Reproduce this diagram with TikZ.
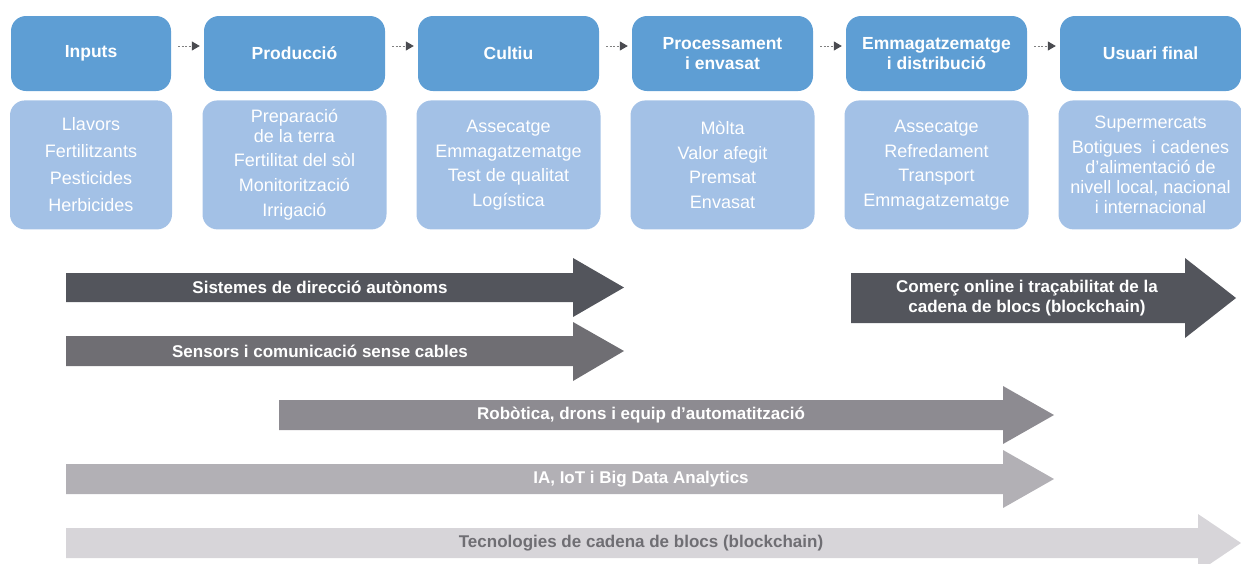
\documentclass[tikz,border=0pt]{standalone}
\usepackage{fontspec}
\setmainfont{Liberation Sans}
\usetikzlibrary{positioning,arrows.meta}

\definecolor{headblue}{HTML}{5E9ED4}
\definecolor{bodyblue}{HTML}{A3C1E6}
\definecolor{tipgray}{HTML}{4A4B50}
\definecolor{bandA}{HTML}{53555C}
\definecolor{bandB}{HTML}{6F6E73}
\definecolor{bandC}{HTML}{8D8B91}
\definecolor{bandD}{HTML}{B2B0B5}
\definecolor{bandE}{HTML}{D7D5D9}

\begin{document}
\begin{tikzpicture}[x=1pt,y=-1pt,
  head/.style = {fill=headblue, rounded corners=15pt, text=white, minimum width=181pt, minimum height=75pt, inner sep=0pt, align=center, font=\bfseries\fontsize{17.5}{20}\selectfont},
  body/.style = {fill=bodyblue, rounded corners=15pt, text=white, minimum width=184pt, minimum height=129pt, inner sep=0pt, align=center, font=\fontsize{18}{20}\selectfont},
  flow/.style = {draw=gray, line width=1pt, dash pattern=on 2pt off 1.5pt, shorten <=7pt, shorten >=4pt, -{Triangle[length=8pt,width=9pt,color=tipgray]}},
  band/.style = {text=white, align=center, font=\bfseries\fontsize{17}{20}\selectfont}]
\useasboundingbox (0,0) rectangle (1241,563);

% stages
\node[head, minimum width=160pt] (inputs) at (91,53.5) {Inputs};
\node[head] (produccio) [right=32.6pt of inputs] {Producció};
\node[head] (cultiu) [right=32.6pt of produccio] {Cultiu};
\node[head] (process) [right=32.6pt of cultiu] {Processament\\i envasat};
\node[head] (emmag) [right=32.6pt of process] {Emmagatzematge\\i distribució};
\node[head] (usuari) [right=32.6pt of emmag] {Usuari final};

\node[body, minimum width=162pt] (inputsB) [below=9pt of inputs] {Llavors\\[7pt]Fertilitzants\\[7pt]Pesticides\\[7pt]Herbicides};
\node[body] (produccioB) [below=9pt of produccio] {Preparació\\de la terra\\[4pt]Fertilitat del sòl\\[5pt]Monitorització\\[5pt]Irrigació};
\node[body] (cultiuB) [below=9pt of cultiu] {Assecatge\\[5pt]Emmagatzematge\\[4pt]Test de qualitat\\[5pt]Logística};
\node[body] (processB) [below=9pt of process] {Mòlta\\[5pt]Valor afegit\\[4pt]Premsat\\[5pt]Envasat};
\node[body] (emmagB) [below=9pt of emmag] {Assecatge\\[5pt]Refredament\\[4pt]Transport\\[5pt]Emmagatzematge};
\node[body] (usuariB) [below=9pt of usuari] {Supermercats\\[5pt]Botigues\ \ i cadenes\\d’alimentació de\\nivell local, nacional\\i internacional};

\draw[flow] ([yshift=7.5pt]inputs.east) -- ([yshift=7.5pt]produccio.west);
\draw[flow] ([yshift=7.5pt]produccio.east) -- ([yshift=7.5pt]cultiu.west);
\draw[flow] ([yshift=7.5pt]cultiu.east) -- ([yshift=7.5pt]process.west);
\draw[flow] ([yshift=7.5pt]process.east) -- ([yshift=7.5pt]emmag.west);
\draw[flow] ([yshift=7.5pt]emmag.east) -- ([yshift=7.5pt]usuari.west);

% technology bands
\fill[bandA] (66,273) -- (573,273) -- (573,258) -- (624,287.5) -- (573,317) -- (573,302) -- (66,302) -- cycle;
\node[band] (sistemes) at (320,287.5) {Sistemes de direcció autònoms};

\fill[bandB] (66,336) -- (573,336) -- (573,322) -- (624,351) -- (573,381) -- (573,366) -- (66,366) -- cycle;
\node[band] (sensors) at (320,351) {Sensors i comunicació sense cables};

\fill[bandA] (851,273) -- (1185,273) -- (1185,258) -- (1236,298) -- (1185,338) -- (1185,323) -- (851,323) -- cycle;
\node[band] (comerc) at (1027,298) {Comerç online i traçabilitat de la\\cadena de blocs (blockchain)};

\fill[bandC] (279,400) -- (1003,400) -- (1003,386) -- (1054,415) -- (1003,444) -- (1003,430) -- (279,430) -- cycle;
\node[band] (robotica) at (641,415) {Robòtica, drons i equip d’automatització};

\fill[bandD] (66,464) -- (1003,464) -- (1003,450) -- (1054,479) -- (1003,508) -- (1003,494) -- (66,494) -- cycle;
\node[band] (ia) at (641,479) {IA, IoT i Big Data Analytics};

\fill[bandE] (66,528) -- (1198,528) -- (1198,514) -- (1241,543) -- (1198,572) -- (1198,558) -- (66,558) -- cycle;
\node[band, text=bandB] (blocs) at (641,543) {Tecnologies de cadena de blocs (blockchain)};
\end{tikzpicture}
\end{document}
